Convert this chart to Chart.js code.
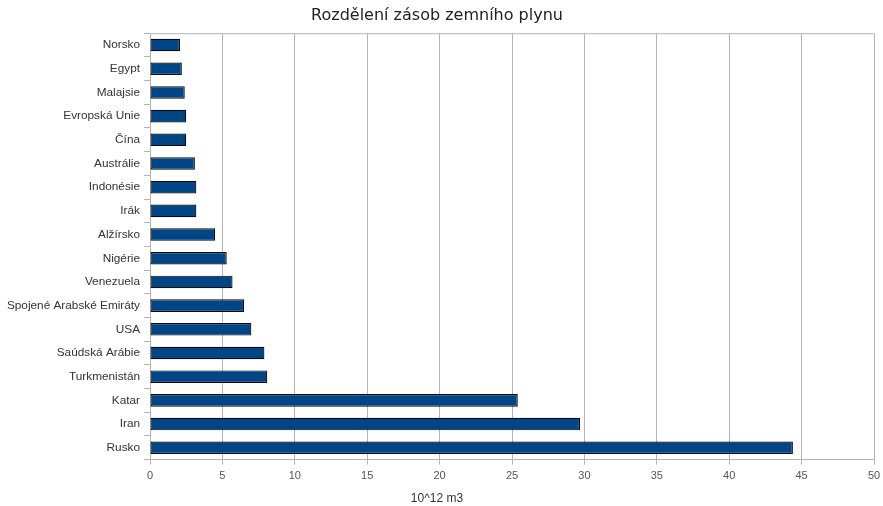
<!DOCTYPE html>
<html>
<head>
<meta charset="utf-8">
<title>Rozdělení zásob zemního plynu</title>
<script src="https://cdn.jsdelivr.net/npm/chart.js@4.4.0/dist/chart.umd.min.js"></script>
<style>
  html, body { margin: 0; padding: 0; background: #fff; }
  #wrap { width: 883px; height: 506px; position: relative; }
</style>
</head>
<body>
<div id="wrap"><canvas id="chart"></canvas></div>
<script>
// countries from top to bottom
const countries = [
    'Norsko', 'Egypt', 'Malajsie', 'Evropská Unie', 'Čína', 'Austrálie',
    'Indonésie', 'Irák', 'Alžírsko', 'Nigérie', 'Venezuela',
    'Spojené Arabské Emiráty', 'USA', 'Saúdská Arábie', 'Turkmenistán',
    'Katar', 'Iran', 'Rusko'
];
// reserves, 10^12 m3
const reserves = [
    2.07, 2.2, 2.4, 2.5, 2.5, 3.1,
    3.2, 3.2, 4.5, 5.3, 5.7,
    6.5, 7.0, 7.9, 8.1,
    25.4, 29.7, 44.4
];
const xTicks = [0, 5, 10, 15, 20, 25, 30, 35, 40, 45, 50];

const gridColor = '#b3b3b3';

// grey line along the top of the plot area
const framePlugin = {
    id: 'frame',
    afterDraw(chart) {
        const {ctx, chartArea: a} = chart;
        ctx.save();
        ctx.strokeStyle = gridColor;
        ctx.lineWidth = 1;
        ctx.beginPath();
        ctx.moveTo(a.left, a.top + 0.5);
        ctx.lineTo(a.right, a.top + 0.5);
        ctx.stroke();
        ctx.restore();
    }
};

new Chart(document.getElementById('chart').getContext('2d'), {
    type: 'bar',
    data: {
        labels: countries,
        datasets: [
            {
                data: reserves,
                backgroundColor: '#004586',
                borderColor: '#0a0a0a',
                borderWidth: 1.2,
                borderSkipped: false,
                barPercentage: 0.53,
                categoryPercentage: 1
            }
        ]
    },
    options: {
        indexAxis: 'y',
        responsive: true,
        maintainAspectRatio: false,
        animation: false,
        layout: {
            padding: {left: 0, right: 9, top: 0, bottom: 0}
        },
        plugins: {
            legend: {display: false},
            tooltip: {enabled: false},
            title: {
                display: true,
                text: 'Rozdělení zásob zemního plynu',
                color: '#222',
                font: {family: 'DejaVu Sans', size: 16, weight: 'normal'},
                padding: {top: 6, bottom: 8}
            },
            subtitle: {
                display: true,
                position: 'bottom',
                text: '10^12 m3',
                color: '#333',
                font: {family: 'Liberation Sans', size: 12, weight: 'normal'},
                padding: {top: 6, bottom: 0}
            }
        },
        scales: {
            x: {
                min: 0,
                max: 50,
                afterBuildTicks: (s) => { s.ticks = xTicks.map(v => ({value: v})); },
                afterFit: (s) => { s.height = 26; s.paddingRight = 6; },
                grid: {color: gridColor, lineWidth: 1, tickLength: 5},
                border: {color: gridColor},
                ticks: {
                    color: '#555',
                    padding: 5,
                    font: {family: 'Liberation Sans', size: 11}
                }
            },
            y: {
                afterFit: (s) => { s.width = 150; },
                grid: {
                    offset: true,
                    drawOnChartArea: false,
                    color: gridColor,
                    tickLength: 6
                },
                border: {color: gridColor},
                ticks: {
                    color: '#333',
                    padding: 4,
                    font: {family: 'Liberation Sans', size: 11.8}
                }
            }
        }
    },
    plugins: [framePlugin]
});
</script>
</body>
</html>
